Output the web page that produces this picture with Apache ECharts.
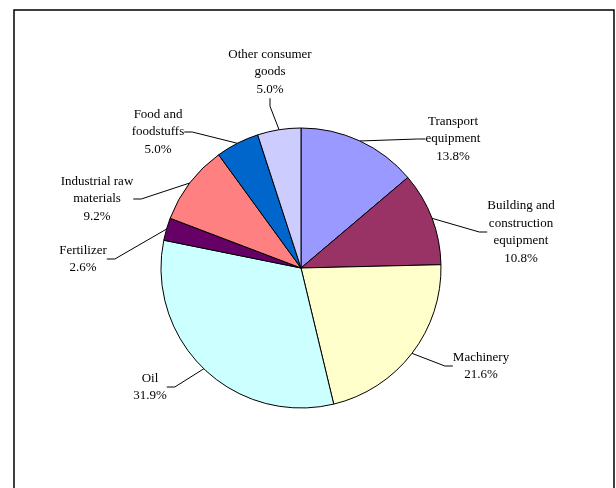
<!DOCTYPE html>
<html>
<head>
<meta charset="utf-8">
<script src="https://cdn.jsdelivr.net/npm/echarts@6/dist/echarts.min.js"></script>
<style>
  html, body { margin: 0; padding: 0; background: #ffffff; }
  #chart { width: 616px; height: 488px; }
</style>
</head>
<body>
<div id="chart"></div>
<script>
// Export shares by product group, clockwise from twelve o'clock
const categories = [
  'Transport\nequipment',
  'Building and\nconstruction\nequipment',
  'Machinery',
  'Oil',
  'Fertilizer',
  'Industrial raw\nmaterials',
  'Food and\nfoodstuffs',
  'Other consumer\ngoods'
];
const shares = [13.8, 10.8, 21.6, 31.9, 2.6, 9.2, 5.0, 5.0];
const sliceColors = ['#9999FF', '#993366', '#FFFFCC', '#CCFFFF', '#660066', '#FF8080', '#0066CC', '#CCCCFF'];

// Where each label block is centred (pixels)
const labelCentres = [
  [453, 139], [521, 232], [481, 366], [150, 387],
  [83, 259], [97, 199], [158, 132], [270, 72]
];

const chart = echarts.init(document.getElementById('chart'), null, { renderer: 'canvas' });

chart.setOption({
  backgroundColor: '#ffffff',
  animation: false,
  graphic: [{
    type: 'rect',
    shape: { x: 14, y: 10, width: 600, height: 500 },
    style: { fill: 'none', stroke: '#000000', lineWidth: 1.5 },
    silent: true
  }],
  series: [{
    type: 'pie',
    center: [301, 268],
    radius: 140,
    startAngle: 90,
    clockwise: true,
    avoidLabelOverlap: false,
    itemStyle: { borderColor: '#000000', borderWidth: 1 },
    label: {
      show: true,
      position: 'outside',
      fontFamily: 'Liberation Serif',
      fontSize: 13,
      lineHeight: 17.5,
      color: '#000000',
      align: 'center',
      formatter: p => p.name + '\n' + p.value.toFixed(1) + '%'
    },
    labelLine: {
      show: true,
      length: 10,
      length2: 8,
      smooth: false,
      lineStyle: { color: '#000000', width: 1 }
    },
    labelLayout: params => {
      const c = labelCentres[params.dataIndex];
      return { x: c[0], y: c[1], align: 'center', verticalAlign: 'middle' };
    },
    data: categories.map((name, i) => ({
      name: name,
      value: shares[i],
      itemStyle: { color: sliceColors[i] }
    }))
  }]
});
</script>
</body>
</html>
